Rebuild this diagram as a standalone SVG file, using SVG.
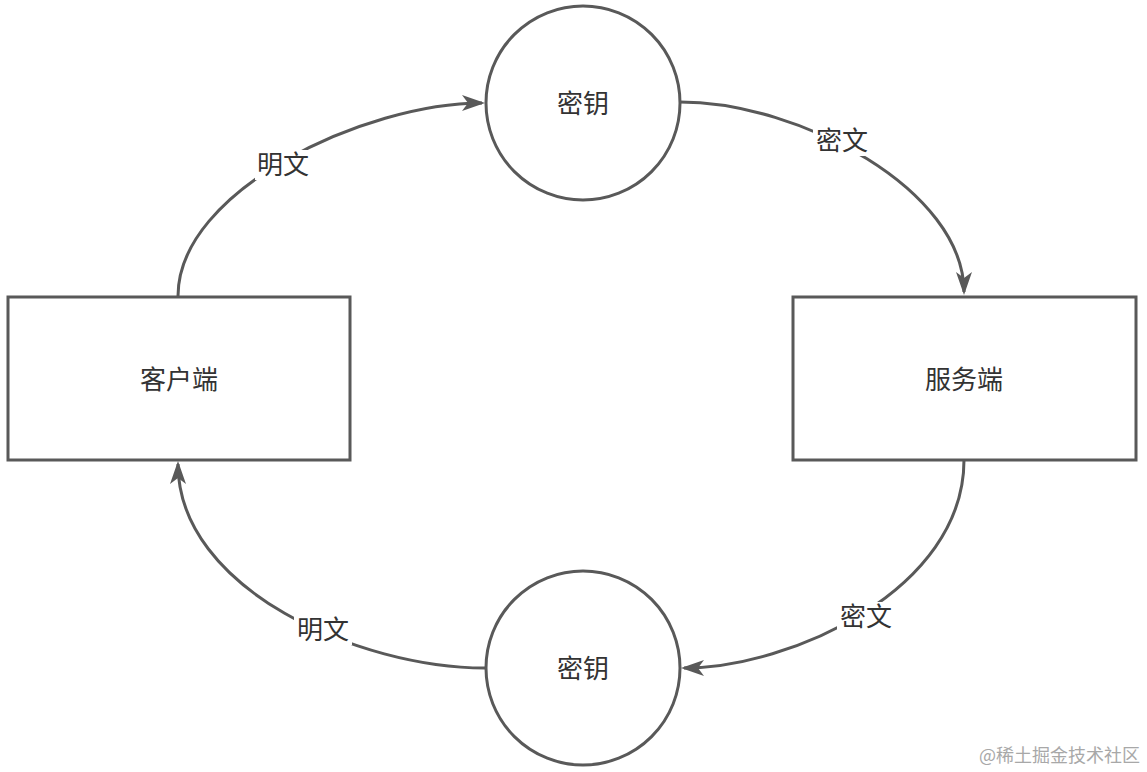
<svg xmlns="http://www.w3.org/2000/svg" width="1147" height="772" viewBox="0 0 1147 772">
  <style>
    .shape { fill: #ffffff; stroke: #595959; stroke-width: 3; }
    .edge { fill: none; stroke: #595959; stroke-width: 3; marker-end: url(#arrow); }
    .lbl { font-family: "Noto Sans CJK SC", "Noto Sans", sans-serif; font-size: 26px; fill: #333333; text-anchor: middle; }
    .lblbg { fill: #ffffff; }
    .wm { font-family: "Noto Sans CJK SC", "Noto Sans", sans-serif; font-size: 18px; fill: #a8a8a8; text-anchor: end; }
  </style>
  <defs>
    <marker id="arrow" viewBox="0 0 23 16" refX="20" refY="8" markerWidth="23" markerHeight="16" markerUnits="userSpaceOnUse" orient="auto">
      <path d="M0,0 L23,8 L0,16 L6,8 Z" fill="#595959"/>
    </marker>
  </defs>
  <rect width="1147" height="772" fill="#ffffff"/>

  <g id="connectors">
    <g id="edge-client-key1">
      <path class="edge" d="M178,296 C178,190 365,103 482,103"/>
      <rect class="lblbg" x="255" y="150" width="58" height="30"/>
      <text class="lbl" x="283" y="174">明文</text>
    </g>
    <g id="edge-key1-server">
      <path class="edge" d="M680,102 C800,102 964,190 964,292"/>
      <rect class="lblbg" x="813" y="126" width="58" height="30"/>
      <text class="lbl" x="842" y="150">密文</text>
    </g>
    <g id="edge-server-key2">
      <path class="edge" d="M964,460 C964,590 790,668 684,668"/>
      <rect class="lblbg" x="837" y="602" width="58" height="30"/>
      <text class="lbl" x="866" y="626">密文</text>
    </g>
    <g id="edge-key2-client">
      <path class="edge" d="M485,668 C360,668 178,590 178,464"/>
      <rect class="lblbg" x="294" y="615" width="58" height="30"/>
      <text class="lbl" x="323" y="639">明文</text>
    </g>
  </g>

  <g id="client">
    <rect class="shape" x="8" y="297" width="342" height="163"/>
    <text class="lbl" x="179" y="389">客户端</text>
  </g>
  <g id="server">
    <rect class="shape" x="793" y="297" width="343" height="163"/>
    <text class="lbl" x="964" y="389">服务端</text>
  </g>
  <g id="key-top">
    <circle class="shape" cx="583" cy="103" r="97"/>
    <text class="lbl" x="583" y="113">密钥</text>
  </g>
  <g id="key-bottom">
    <circle class="shape" cx="583" cy="668" r="97"/>
    <text class="lbl" x="583" y="678">密钥</text>
  </g>

  <text class="wm" x="1140" y="762">@稀土掘金技术社区</text>
</svg>
